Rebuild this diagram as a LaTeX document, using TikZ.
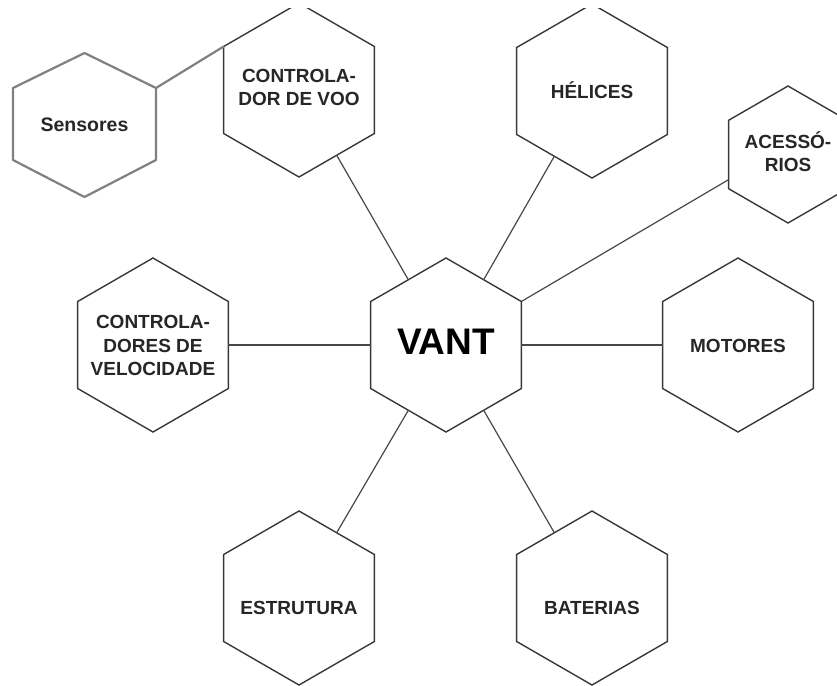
\documentclass[tikz,border=0pt]{standalone}
\usepackage{fontspec}
\setmainfont{Liberation Sans}
\usetikzlibrary{shapes.geometric,calc}
% zero-size centred text block, shifted vertically by #1
\newcommand\hxtext[2][-6.75pt]{\makebox[0pt]{\raisebox{#1}[0pt][0pt]{\begin{tabular}{@{}c@{}}#2\end{tabular}}}}
\begin{document}
\begin{tikzpicture}[x=1pt,y=-1pt,
  hexa/.style={regular polygon, regular polygon sides=6, shape border rotate=30,
    minimum size=174pt, inner sep=0pt, outer sep=0pt, draw=black!78, line width=1.4pt,
    text=black!85, font=\bfseries\fontsize{19}{23.5}\selectfont},
  smallhexa/.style={hexa, minimum size=137pt},
  conn/.style={draw=black!72, line width=1.2pt},
  grayline/.style={draw=black!50, line width=2.2pt, line join=round}]
\useasboundingbox (0,0) rectangle (837,685);
\clip (0,9) rectangle (837,685);
% hexagons
\node[hexa] (cdv) at (299,90) {\hxtext[-3.75pt]{CONTROLA-\\DOR DE VOO}};
\node[hexa] (hel) at (592,91) {\hxtext{HÉLICES}};
\node[smallhexa] (acc) at (788,154.5) {\hxtext[-4.75pt]{ACESSÓ-\\RIOS}};
\node[hexa] (cvel) at (153,345) {\hxtext{CONTROLA-\\DORES DE\\VELOCIDADE}};
\node[hexa, font=\bfseries\fontsize{37}{40}\selectfont, text=black] (vant) at (446,345) {\hxtext[-7.25pt]{VANT}};
\node[hexa] (mot) at (738,345) {\hxtext{MOTORES}};
\node[hexa] (est) at (299,598) {\hxtext[-15.75pt]{ESTRUTURA}};
\node[hexa] (bat) at (592,598) {\hxtext[-15.75pt]{BATERIAS}};
% Sensores (wider hexagon)
\node[inner sep=0pt, text=black!85, font=\bfseries\fontsize{19.5}{23.5}\selectfont] (sens) at (84.5,125) {Sensores};
\draw[grayline] ($(sens)+(0,-72)$) -- ($(sens)+(71.5,-37)$) -- ($(sens)+(71.5,35)$)
  -- ($(sens)+(0,72)$) -- ($(sens)+(-71.5,35)$) -- ($(sens)+(-71.5,-37)$) -- cycle;
\coordinate (sensUR) at ($(sens)+(71.5,-37)$);
\coordinate (accin) at (728,180);
% connectors
\draw[grayline] (sensUR) -- (cdv.150);
\draw[conn] (vant.120) -- (cdv.-60);
\draw[conn] (vant.60) -- (hel.240);
\draw[conn] (vant.30) -- (accin);
\draw[conn] (vant.180) -- (cvel.0);
\draw[conn] (vant.0) -- (mot.180);
\draw[conn] (vant.240) -- (est.60);
\draw[conn] (vant.300) -- (bat.120);
\end{tikzpicture}
\end{document}
